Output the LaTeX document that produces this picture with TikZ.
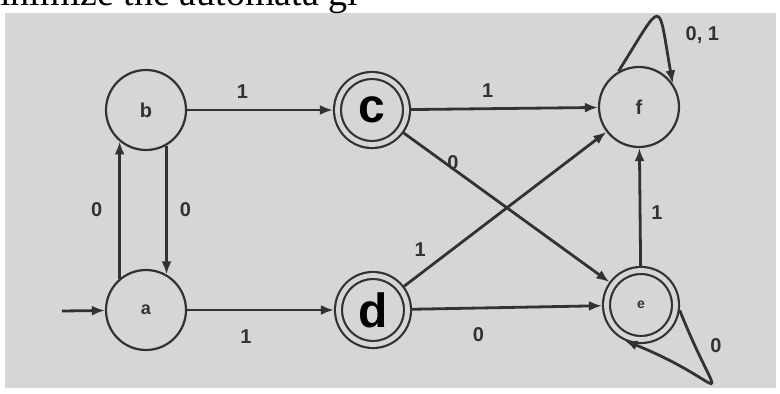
\documentclass[tikz,border=0pt]{standalone}
\usepackage{fontspec}
\setmainfont{Liberation Serif}
\setsansfont{Liberation Sans}
\usetikzlibrary{arrows.meta, positioning}
\definecolor{ink}{RGB}{50,50,50}
\definecolor{paper}{RGB}{214,214,214}

\begin{document}
\begin{tikzpicture}[x=0.5pt, y=-0.5pt,
  state/.style={draw=ink, circle, line width=1.1pt, minimum size=40pt, inner sep=0pt,
                font=\sffamily\bfseries, text=ink},
  accept/.style={state, double=paper, double distance=2.4pt, minimum size=34.5pt,
                 outer sep=2.3pt},
  hand/.style={font=\sffamily\bfseries\fontsize{24}{26}\selectfont, text=black},
  arr/.style={-{Latex[length=6.5pt, width=5pt]}, draw=ink, line width=1.4pt},
  lbl/.style={font=\sffamily\bfseries, text=ink, inner sep=2pt}]

  \useasboundingbox (0,0) rectangle (780,394);
  \fill[paper] (5,13) rectangle (776,388);
  \node[anchor=base west, inner sep=0pt, font=\fontsize{19}{22}\selectfont]
    (title) at (0,6) {inimize the automata gi};

  % states: two rows, three columns
  \node[state, font=\sffamily\bfseries\small] (a) at (146,310) {a};
  \node[state] (b) at (146,110) {b};
  \node[accept, hand] (c) at (372,110) {c};
  \node[accept, hand] (d) at (373,310) {d};
  \node[accept, font=\sffamily\bfseries\scriptsize] (e) at (641,305) {e};
  \node[state] (f) at (639,107) {f};

  \coordinate (start) at (62,311);

  \draw[arr] (start) -- (a);
  \draw[arr] (a.130) -- node[lbl, left=6pt] {0} (b.230);
  \draw[arr] (b.300) -- node[lbl, right=4pt] {0} (a.60);
  \draw[arr] (b) -- node[lbl, pos=0.38, above=3pt] {1} (c);
  \draw[arr] (a) -- node[lbl, pos=0.4, below=7pt] {1} (d);
  \draw[arr] (c) -- node[lbl, pos=0.41, above=3pt] {1} (f);
  \draw[arr] (d) -- node[lbl, pos=0.35, below=7pt] {0} (e);
  \draw[arr] (c) -- node[lbl, pos=0.24, above=-3pt] {0} (e);
  \draw[arr] (d) -- node[lbl, pos=0.08, above=6pt] {1} (f);
  \draw[arr] (e) -- node[lbl, pos=0.45, right=3pt] {1} (f);

  % self loops
  \draw[arr] (f.120) to[out=58, in=100, looseness=4]
    node[lbl, pos=0.75, right=8pt] {0, 1} (f.35);
  \draw[arr] (e.-8) to[out=-68, in=-22, looseness=4.8]
    node[lbl, pos=0.13, right=5pt] {0} (e.245);
\end{tikzpicture}
\end{document}
